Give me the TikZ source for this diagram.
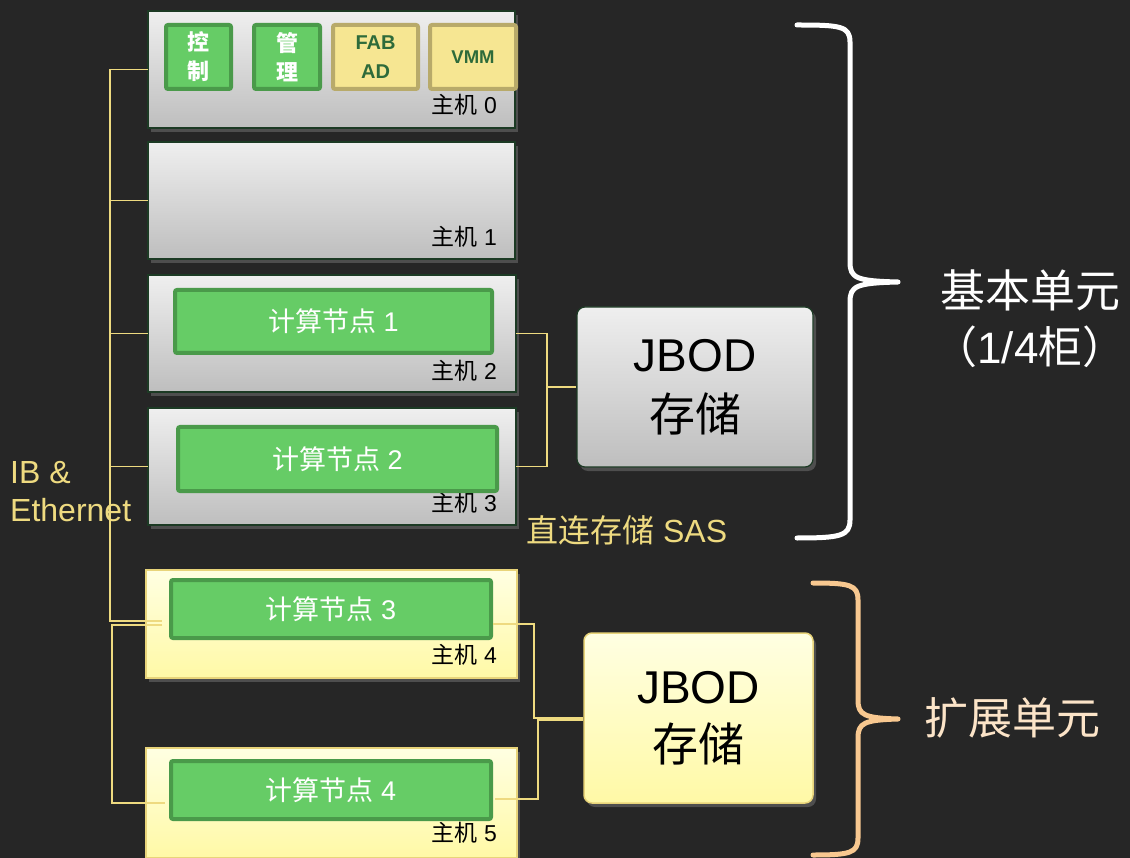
\documentclass[tikz,border=0pt]{standalone}
\usepackage{fontspec}
\setmainfont{Liberation Sans}
\newfontfamily\cjk{Noto Sans CJK SC}
\usetikzlibrary{calc,shadows}
\definecolor{bg}{HTML}{262626}
\definecolor{linkc}{RGB}{238,218,128}
\definecolor{grayTop}{HTML}{EFEFEF}
\definecolor{grayBot}{HTML}{BEBEBE}
\definecolor{hostEdge}{HTML}{1C3A24}
\definecolor{greenFill}{HTML}{66CC66}
\definecolor{greenEdge}{HTML}{4A9A4A}
\definecolor{ylwFill}{HTML}{F6E692}
\definecolor{ylwEdge}{HTML}{B8AA6A}
\definecolor{ylwText}{HTML}{2E6B3A}
\definecolor{yTop}{HTML}{FFFFE2}
\definecolor{yBot}{HTML}{FFF9A6}
\definecolor{yEdge}{HTML}{E8D47A}
\definecolor{braceO}{HTML}{F8C890}
\definecolor{textO}{HTML}{FCE4C8}
\begin{document}
\begin{tikzpicture}[x=1pt,y=-1pt,
  shadowed/.style={drop shadow={shadow xshift=3pt,shadow yshift=-4pt,opacity=0.45}},
  hostgray/.style={draw=hostEdge,line width=1.2pt,top color=grayTop,bottom color=grayBot,
    inner sep=0,outer sep=0,anchor=north west,shadowed},
  hostylw/.style={draw=yEdge,line width=1.2pt,top color=yTop,bottom color=yBot,
    inner sep=0,outer sep=0,anchor=north west,shadowed},
  hostlabel/.style={anchor=east,inner sep=0,text=black,font=\fontsize{23}{26}\selectfont},
  greenbox/.style={draw=greenEdge,line width=4pt,fill=greenFill,rounded corners=2pt,
    inner sep=0,outer sep=0,text=white},
  ylwbox/.style={draw=ylwEdge,line width=4pt,fill=ylwFill,rounded corners=2pt,
    inner sep=0,outer sep=0,text=ylwText,align=center},
  smalltxt/.style={font=\bfseries\fontsize{22}{29}\selectfont\cjk,align=center},
  compute/.style={greenbox,font=\fontsize{27}{30}\selectfont},
  jbodgray/.style={draw=hostEdge,line width=1.2pt,top color=grayTop,bottom color=grayBot,
    rounded corners=8pt,inner sep=0,align=center,text=black,
    font=\fontsize{46}{60}\selectfont,shadowed},
  jbodylw/.style={draw=yEdge,line width=1.5pt,top color=yTop,bottom color=yBot,
    rounded corners=8pt,inner sep=0,align=center,text=black,
    font=\fontsize{46}{58}\selectfont,shadowed},
  link/.style={draw=linkc,line width=1.6pt},
  brace/.style={line width=5pt,line cap=round,line join=round}
]
\fill[bg] (0,0) rectangle (1130,858);
\useasboundingbox (0,0) rectangle (1130,858);

% hosts
\node[hostgray,minimum width=367pt,minimum height=117pt] (h0) at (148,11) {};
\node[hostgray,minimum width=367pt,minimum height=117pt] (h1) at (148,142) {};
\node[hostgray,minimum width=368pt,minimum height=117pt] (h2) at (148,275) {};
\node[hostgray,minimum width=368pt,minimum height=117pt] (h3) at (148,408) {};
\node[hostylw,minimum width=371pt,minimum height=108pt] (h4) at (146,570) {};
\node[hostylw,minimum width=371pt,minimum height=110pt] (h5) at (146,748) {};

\node[hostlabel] (l0) at (497,105) {{\cjk 主机} 0};
\node[hostlabel] (l1) at (497,237) {{\cjk 主机} 1};
\node[hostlabel] (l2) at (497,371) {{\cjk 主机} 2};
\node[hostlabel] (l3) at (497,503) {{\cjk 主机} 3};
\node[hostlabel] (l4) at (497,655) {{\cjk 主机} 4};
\node[hostlabel] (l5) at (497,833) {{\cjk 主机} 5};

% host 0 modules
\node[greenbox,smalltxt,minimum width=65pt,minimum height=64pt] (ctl) at (198.5,57) {控\\制};
\node[greenbox,smalltxt,minimum width=66pt,minimum height=64pt] (mgt) at (287,57) {管\\理};
\node[ylwbox,font=\bfseries\fontsize{20}{29}\selectfont,minimum width=85pt,minimum height=64pt] (fab) at (375.5,57) {FAB\\AD};
\node[ylwbox,font=\bfseries\fontsize{18.5}{29}\selectfont,minimum width=86pt,minimum height=64pt] (vmm) at (473,57) {VMM};

% compute nodes
\node[compute,minimum width=317pt,minimum height=63pt] (c1) at (333.5,321.5) {{\cjk 计算节点} 1};
\node[compute,minimum width=319pt,minimum height=64pt] (c2) at (337.5,459) {{\cjk 计算节点} 2};
\node[compute,minimum width=320pt,minimum height=58pt] (c3) at (331,609) {{\cjk 计算节点} 3};
\node[compute,minimum width=320pt,minimum height=58pt] (c4) at (331,790) {{\cjk 计算节点} 4};

% JBOD
\node[jbodgray,minimum width=236pt,minimum height=160pt] (jb1) at (695,387) {JBOD\\{\cjk 存储}};
\node[jbodylw,minimum width=229pt,minimum height=170pt] (jb2) at (698.5,718) {JBOD\\{\cjk 存储}};

% IB & Ethernet bus
\coordinate (b4) at (110,621);
\coordinate (b4in) at (162,621);
\coordinate (b5in) at (162,625);
\coordinate (b5) at (112,625);
\draw[link] (h0.west) -| (b4) -- (b4in);
\draw[link] (h1.west) -- (h1.west -| b4);
\draw[link] (h2.west) -- (h2.west -| b4);
\draw[link] (h3.west) -- (h3.west -| b4);
\draw[link] (b5in) -- (b5) |- ($(h5.west)+(19,0)$);

% SAS links top
\coordinate (s1) at (547,387);
\draw[link] (h2.east) -| (s1) |- (h3.east);
\draw[link] (s1) -- (jb1.west);

% SAS links bottom
\coordinate (s2a) at (534,718);
\coordinate (s2b) at (538,720);
\draw[link] ($(c3.east |- h4.west)+(2,0)$) -| (s2a) -- (jb2.west);
\draw[link] ($(jb2.west)+(0,2)$) -- (s2b) |- ($(c4.east)+(4,9)$);

% texts
\node[anchor=north west,inner sep=0,align=left,text=linkc,font=\fontsize{32}{38}\selectfont] (ib) at (10,461) {IB \&\\Ethernet};
\node[anchor=west,inner sep=0,text=linkc,font=\fontsize{32}{36}\selectfont] (sas) at (526,530) {{\cjk 直连存储} SAS};

% braces
\draw[brace,white] (797,25) .. controls (840,25) and (850,26) .. (850,42) -- (850,262)
  .. controls (850,278) and (856,281) .. (898,282)
  .. controls (856,283) and (850,286) .. (850,302) -- (850,520)
  .. controls (850,536) and (840,538) .. (797,538);
\draw[brace,braceO] (813,583) .. controls (850,583) and (858,585) .. (858,600) -- (858,700)
  .. controls (858,715) and (864,718) .. (898,719)
  .. controls (864,720) and (858,723) .. (858,738) -- (858,838)
  .. controls (858,853) and (850,855) .. (813,855);

\node[text=white,font=\fontsize{45}{50}\selectfont\cjk] (basic) at (1030,290) {基本单元};
\node[text=white,font=\fontsize{44}{50}\selectfont,inner sep=0] (quarter) at (1030,347) {{\cjk （}1/4{\cjk 柜）}};
\node[text=textO,font=\fontsize{44}{50}\selectfont\cjk] (ext) at (1012,718) {扩展单元};
\end{tikzpicture}
\end{document}
